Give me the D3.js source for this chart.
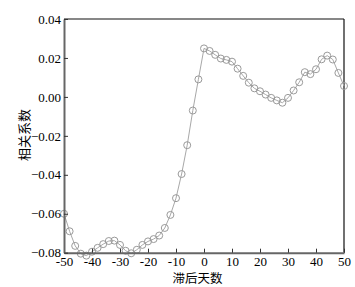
<!DOCTYPE html>
<html><head><meta charset="utf-8">
<script src="https://cdn.jsdelivr.net/npm/d3@7/dist/d3.min.js"></script>
<style>body{margin:0;background:#fff}</style>
</head><body>
<svg id="c" width="355" height="287"></svg>
<script>
const lagDays = d3.range(-50, 51, 2);
const corrValues = [
 -0.060, -0.069, -0.0765, -0.0805, -0.0815, -0.0795, -0.0775, -0.0756, -0.074, -0.0738,
 -0.076, -0.079, -0.0803, -0.0785, -0.076, -0.0742, -0.073, -0.0712, -0.0673, -0.0606,
 -0.052, -0.0396, -0.0248, -0.007, 0.009, 0.0249, 0.0236, 0.0216, 0.0197, 0.019,
 0.0181, 0.0145, 0.0108, 0.0073, 0.0044, 0.0029, 0.0012, -0.0005, -0.0018, -0.003,
 -0.0005, 0.0033, 0.0075, 0.0127, 0.0117, 0.0142, 0.0193, 0.0212, 0.0192, 0.0123, 0.0056
];
const xTicks = [-50,-40,-30,-20,-10,0,10,20,30,40,50];
const yTicks = [-0.08,-0.06,-0.04,-0.02,0,0.02,0.04];
const xTitle = "滞后天数";
const yTitle = "相关系数";

const data = lagDays.map((d,i)=>({d, v: corrValues[i]}));
const L=64, R=344, T=19, B=252.7;
const svg = d3.select("#c");
const x = d3.scaleLinear().domain([-50,50]).range([L,R]);
const y = d3.scaleLinear().domain([-0.08,0.04]).range([B,T]);
const numFont = "'Liberation Serif','Times New Roman',serif";

// frame top/right
svg.append("line").attr("x1",L).attr("x2",R).attr("y1",T).attr("y2",T).attr("stroke","#111").attr("stroke-width",1.2);
svg.append("line").attr("x1",R).attr("x2",R).attr("y1",T).attr("y2",B).attr("stroke","#111").attr("stroke-width",1.2);

// series
svg.append("path").datum(data)
  .attr("fill","none").attr("stroke","#a8a8a8").attr("stroke-width",1)
  .attr("d", d3.line().x(p=>x(p.d)).y(p=>y(p.v)));
svg.selectAll("circle.pt").data(data).join("circle").attr("class","pt")
  .attr("cx",p=>x(p.d)).attr("cy",p=>y(p.v)).attr("r",3.5)
  .attr("fill","none").attr("stroke","#9a9a9a").attr("stroke-width",1);

// axes
const xAxis = d3.axisBottom(x).tickValues(xTicks).tickSizeInner(-4).tickSizeOuter(0).tickPadding(4.5)
  .tickFormat(d=>d<0?"-"+Math.abs(d):d);
const gx = svg.append("g").attr("transform",`translate(0,${B})`).call(xAxis);
gx.select(".domain").attr("stroke","#666").attr("stroke-width",2);
gx.selectAll(".tick line").attr("stroke","#333");
gx.selectAll("text").attr("font-family",numFont).attr("font-size",13).attr("fill","#000");

const yAxis = d3.axisLeft(y).tickValues(yTicks).tickSizeInner(-4).tickSizeOuter(0).tickPadding(3)
  .tickFormat(d=>(d<0?"−":"")+Math.abs(d).toFixed(2));
const gy = svg.append("g").attr("transform",`translate(${L},0)`).call(yAxis);
gy.select(".domain").attr("stroke","#666").attr("stroke-width",2);
gy.selectAll(".tick line").attr("stroke","#333");
gy.selectAll("text").attr("font-family",numFont).attr("font-size",13).attr("fill","#000");

// titles
svg.append("text").attr("x",197.5).attr("y",282.5).attr("text-anchor","middle")
  .attr("font-family","'Noto Sans CJK SC',sans-serif").attr("font-size",12.5).attr("fill","#000").text(xTitle);
svg.append("text").attr("transform","translate(29,135) rotate(-90)").attr("text-anchor","middle")
  .attr("font-family","'Noto Sans CJK SC',sans-serif").attr("font-size",13).attr("fill","#000").text(yTitle);
</script>
</body></html>
